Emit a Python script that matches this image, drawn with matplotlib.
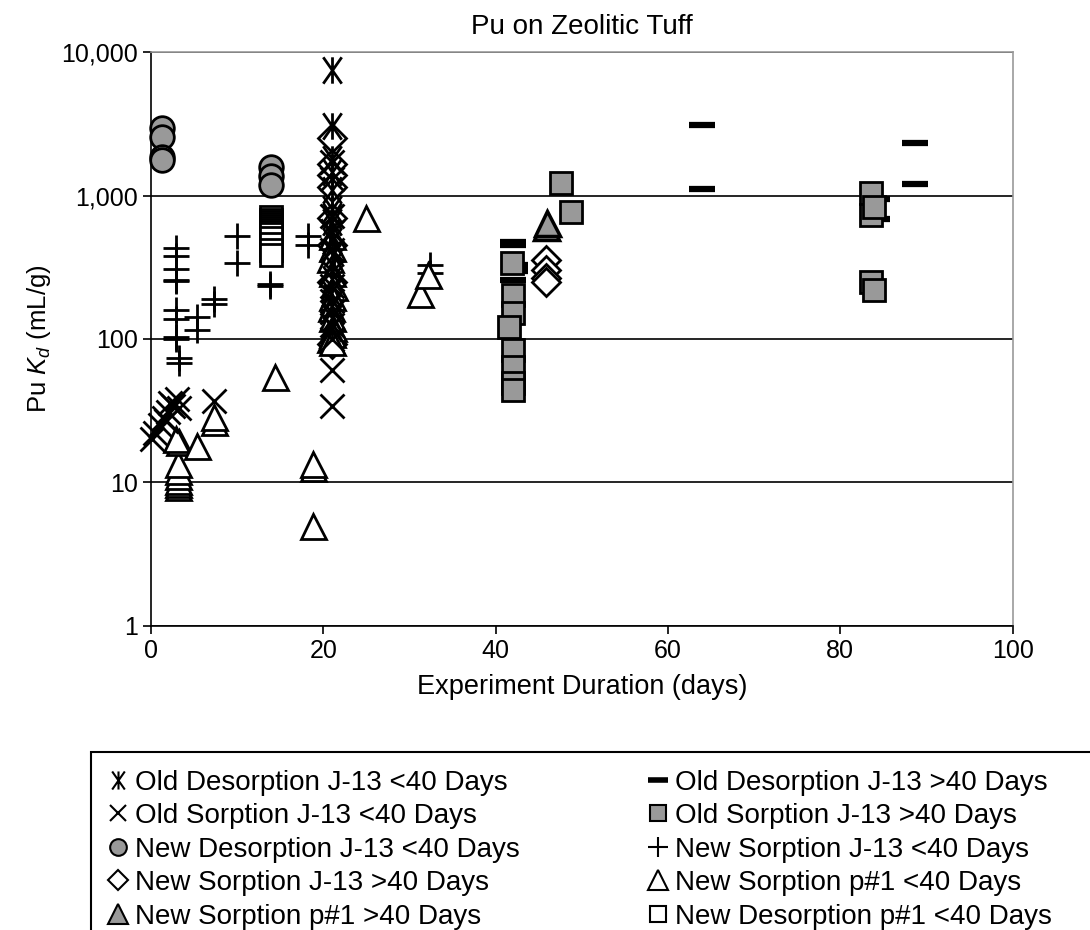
import matplotlib
matplotlib.use('Agg')
import matplotlib.pyplot as plt
from matplotlib.lines import Line2D
from matplotlib.patches import Rectangle
from matplotlib.path import Path

plt.rcParams['font.family'] = ['Liberation Sans', 'DejaVu Sans']
plt.rcParams['mathtext.fontset'] = 'custom'
plt.rcParams['mathtext.rm'] = 'Liberation Sans'
plt.rcParams['mathtext.it'] = 'Liberation Sans:italic'

# ---- data ----
# Old Desorption J-13 >40 Days (dash)
od_gt_x = [64, 64, 88.7, 88.7, 84.3, 84.3, 42, 42, 42.3, 42.3, 42]
od_gt_y = [3100, 1110, 2320, 1200, 944, 685, 474, 455, 330, 300, 257]

# Old Sorption J-13 >40 Days (grey square)
os_gt_x = [41.9, 42, 42, 41.6, 42, 42, 42, 42, 47.6, 48.7, 83.6, 83.6, 83.9, 83.6, 83.9]
os_gt_y = [340, 203, 152, 121, 84, 64, 49, 44, 1220, 767, 1040, 731, 832, 250, 219]

# New Sorption J-13 <40 Days (plus)
ns_lt_x = [2.9, 2.9, 2.9, 2.9, 2.9, 2.9, 2.9, 2.9, 2.9, 3.2, 3.2,
           5.3, 5.3, 7.3, 7.3, 10, 10, 13.8, 13.8, 18.2, 18.2, 32.4, 32.4]
ns_lt_y = [431, 379, 308, 258, 252, 159, 138, 103, 100, 74, 68,
           142, 116, 190, 175, 523, 339, 240, 235, 523, 451, 328, 288]

# New Desorption J-13 <40 Days (grey circle)
nd_lt_x = [1.3, 1.3, 1.3, 1.3, 13.9, 13.9, 13.9]
nd_lt_y = [2950, 2560, 1860, 1770, 1580, 1370, 1180]

# New Desorption p#1 <40 Days (open square)
ndp_lt_x = [13.9] * 13
ndp_lt_y = [708, 680, 653, 630, 612, 590, 575, 555, 539, 505, 459, 417, 385]

# New Sorption p#1 <40 Days (open triangle)
nsp_lt_x = [3.1, 3.1, 3.1, 3.1, 3.1, 3.1, 3.3, 2.9, 5.3, 7.3, 7.3, 14.4,
            18.8, 18.8, 18.8, 24.9, 31.2, 32.1,
            21, 21, 20.8, 21, 21.2, 21, 20.9, 21, 21.1, 21, 20.8, 21]
nsp_lt_y = [9.3, 9.8, 10.3, 11, 12, 13.5, 19, 20, 18, 26.5, 28.5, 54,
            12.6, 13.4, 5.0, 700, 205, 279,
            520, 430, 360, 290, 230, 195, 165, 140, 120, 108, 100, 95]

# New Sorption p#1 >40 Days (grey triangle)
nspg_x = [45.9, 46.0]
nspg_y = [600, 640]

# Old Desorption J-13 <40 Days (asterisk)
odl_x = [21, 21, 21, 21, 21, 21, 21, 21, 20.8, 21, 21.2, 21, 21, 20.9, 21, 21, 21]
odl_y = [7500, 3050, 1800, 1450, 1100, 800, 720, 650, 560, 480, 400, 330, 260, 210, 170, 140, 120]

# Old Sorption J-13 <40 Days (x)
osl_x = [0.1, 0.5, 1.0, 1.5, 2.0, 2.2, 2.6, 3.0, 3.3, 1.8, 7.3,
         21, 21, 21, 21, 21, 21, 21, 21, 21, 21, 21, 21, 21]
osl_y = [20, 22, 25, 28, 31, 36, 34, 38, 33, 27, 37,
         34, 61, 100, 125, 155, 185, 235, 300, 420, 560, 720, 1300, 1700]

# New Sorption J-13 >40 Days (diamond)
nsg_x = [21, 21, 21, 21, 21, 21, 21, 21, 45.9, 45.9, 45.9, 45.9]
nsg_y = [2500, 1650, 1400, 1150, 700, 450, 250, 92, 355, 303, 268, 250]

grey = '#999999'

# asterisk like Excel: vertical stroke plus an X
star = Path([(0, -1), (0, 1), (-0.7, -1), (0.7, 1), (-0.7, 1), (0.7, -1)],
            [Path.MOVETO, Path.LINETO, Path.MOVETO, Path.LINETO, Path.MOVETO, Path.LINETO])

fig = plt.figure(figsize=(10.9, 9.3), dpi=100)
ax = fig.add_axes([0.1385, 0.327, 0.7905, 0.617])

kw = dict(ls='none', clip_on=False)
ax.plot(od_gt_x, od_gt_y, marker='_', ms=19, mew=4.5, color='black', **kw)
ax.plot(os_gt_x, os_gt_y, marker='s', ms=16, mfc=grey, mec='black', mew=2, **kw)
ax.plot(ns_lt_x, ns_lt_y, marker='+', ms=19, mew=2, color='black', **kw)
ax.plot(nd_lt_x, nd_lt_y, marker='o', ms=17, mfc=grey, mec='black', mew=2, **kw)
ax.plot(ndp_lt_x, ndp_lt_y, marker='s', ms=16, mfc='white', mec='black', mew=2, **kw)
ax.plot(nsg_x, nsg_y, marker='D', ms=14, mfc='white', mec='black', mew=2, **kw)
ax.plot(nsp_lt_x, nsp_lt_y, marker='^', ms=18, mfc='white', mec='black', mew=2, **kw)
ax.plot(odl_x, odl_y, marker=star, ms=19, mew=2, color='black', **kw)
ax.plot(osl_x, osl_y, marker='x', ms=17, mew=2, color='black', **kw)
ax.plot(nspg_x, nspg_y, marker='^', ms=18, mfc=grey, mec='black', mew=2.5, **kw)

ax.set_yscale('log')
ax.set_ylim(1, 10000)
ax.set_xlim(0, 100)
ax.set_yticks([1, 10, 100, 1000, 10000])
ax.set_yticklabels(['1', '10', '100', '1,000', '10,000'])
ax.minorticks_off()
ax.set_xticks([0, 20, 40, 60, 80, 100])
ax.tick_params(labelsize=18, length=6, width=1.2, direction='out')
ax.yaxis.grid(True, color='black', lw=1.2)
ax.set_axisbelow(True)
for s in ['top', 'right']:
    ax.spines[s].set_color('#999999')
    ax.spines[s].set_linewidth(1.2)
for s in ['left', 'bottom']:
    ax.spines[s].set_linewidth(1.2)

ax.set_title('Pu on Zeolitic Tuff', fontsize=20, pad=13)
ax.set_xlabel('Experiment Duration (days)', fontsize=19.5, labelpad=8)
ax.set_ylabel(r'Pu $K_d$ (mL/g)', fontsize=18.5, labelpad=6)

# legend box
fig.patches.append(Rectangle((0.0835, -0.05), 1.0, 0.241, transform=fig.transFigure,
                             fill=False, ec='black', lw=1.5))

lw = dict(ls='none', color='black')
handles = [
    Line2D([], [], marker=star, ms=13, mew=1.5, **lw),
    Line2D([], [], marker='x', ms=12, mew=1.5, **lw),
    Line2D([], [], marker='o', ms=12, mfc=grey, mec='black', mew=1.5, ls='none'),
    Line2D([], [], marker='D', ms=10, mfc='white', mec='black', mew=1.5, ls='none'),
    Line2D([], [], marker='^', ms=14, mfc=grey, mec='black', mew=1.5, ls='none'),
    Line2D([], [], marker='_', ms=14, mew=4, **lw),
    Line2D([], [], marker='s', ms=12, mfc=grey, mec='black', mew=1.5, ls='none'),
    Line2D([], [], marker='+', ms=15, mew=1.5, **lw),
    Line2D([], [], marker='^', ms=14, mfc='white', mec='black', mew=1.5, ls='none'),
    Line2D([], [], marker='s', ms=12, mfc='white', mec='black', mew=1.5, ls='none'),
]
labels = ['Old Desorption J-13 <40 Days', 'Old Sorption J-13 <40 Days',
          'New Desorption J-13 <40 Days', 'New Sorption J-13 >40 Days',
          'New Sorption p#1 >40 Days', 'Old Desorption J-13 >40 Days',
          'Old Sorption J-13 >40 Days', 'New Sorption J-13 <40 Days',
          'New Sorption p#1 <40 Days', 'New Desorption p#1 <40 Days']
fig.legend(handles, labels, ncol=2, loc='upper left', bbox_to_anchor=(0.101, 0.1725),
           frameon=False, fontsize=20, handlelength=0.6, handletextpad=0.3,
           columnspacing=4.68, labelspacing=0.27, borderaxespad=0, borderpad=0)

fig.savefig('out.png', dpi=100)
